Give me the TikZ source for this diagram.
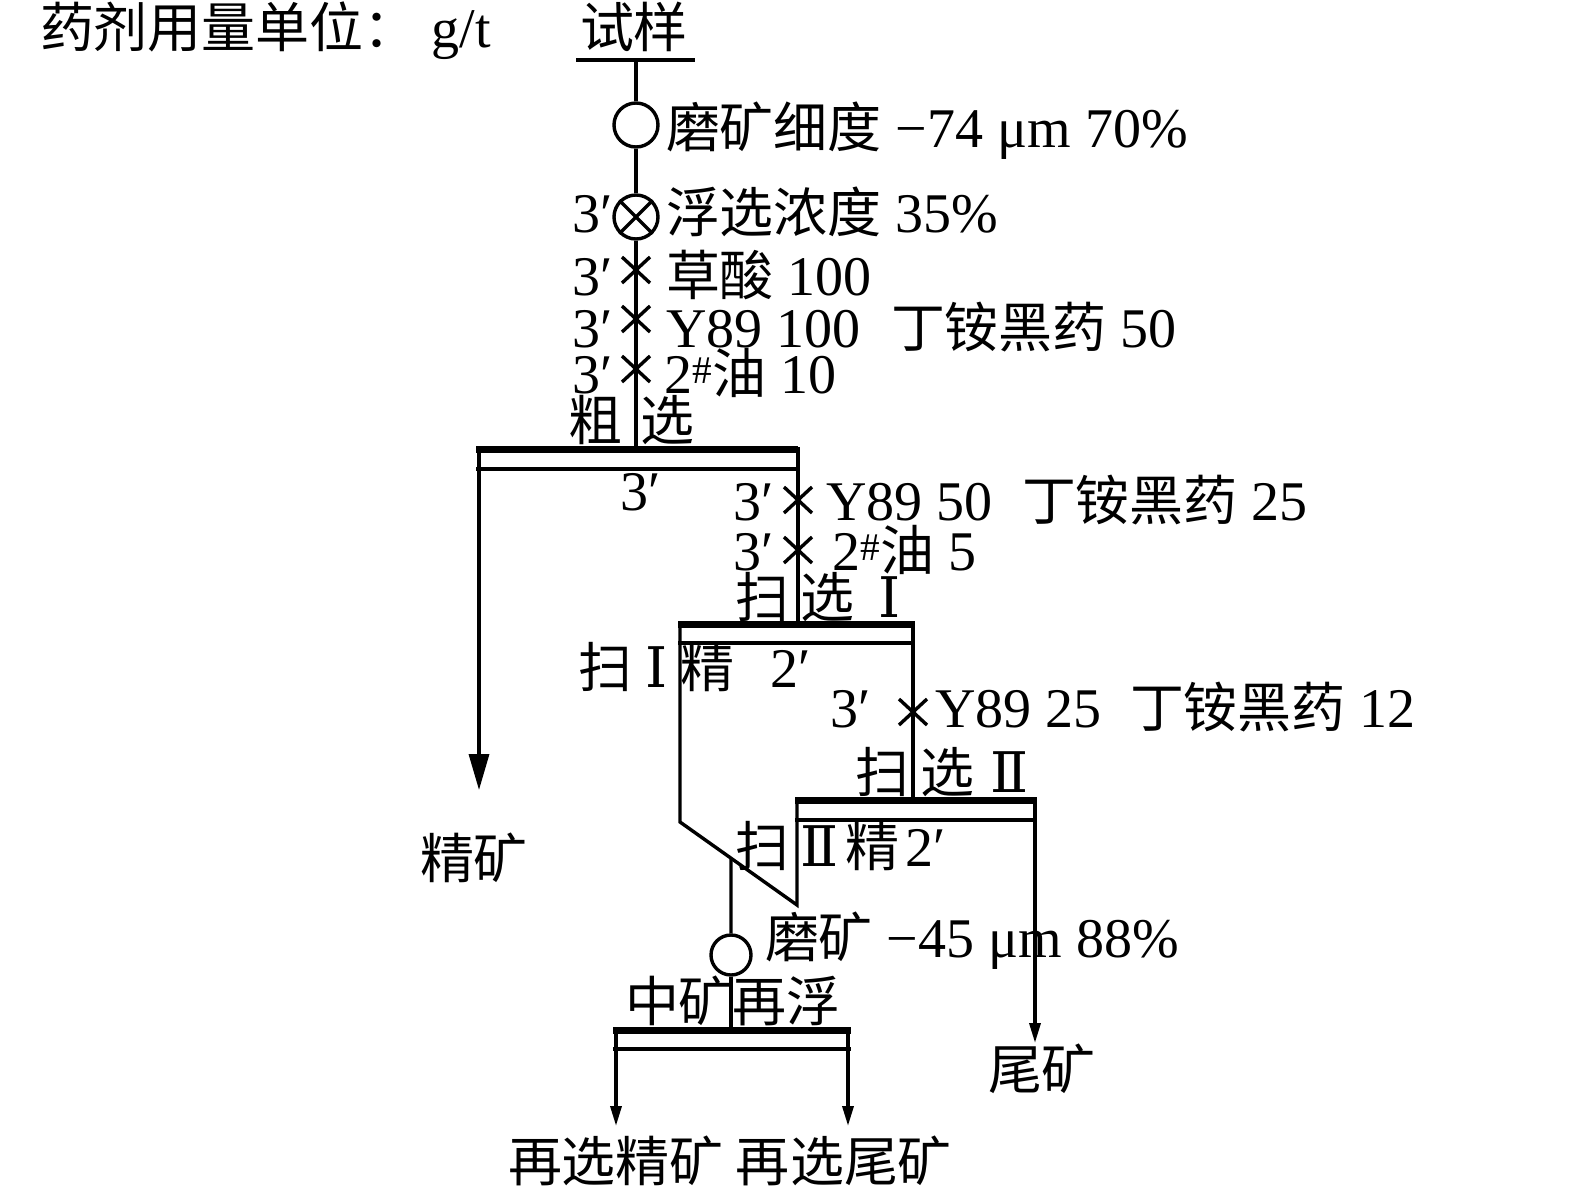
\documentclass[tikz,border=0pt]{standalone}
\usepackage{fontspec}
\setmainfont{Liberation Serif}
\newfontfamily\cjkf{Noto Sans CJK SC}[Scale=0.964]
\newfontfamily\romf{DejaVu Serif}
\usetikzlibrary{arrows.meta,calc}
\newcommand\zh[1]{{\cjkf #1}}
\newcommand\rn[1]{{\romf #1}}
\newcommand\pr{′}
\tikzset{
  flow/.style={line width=3.4pt, black},
  bar/.style={line width=7pt, black},
  lbl/.style={anchor=base west, inner sep=0pt, outer sep=0pt, font=\fontsize{56}{60}\selectfont},
  ring/.style={circle, draw, line width=3.4pt, minimum size=44pt, inner sep=0pt},
  bigtip/.style={-{Triangle[length=36pt,width=20pt]}},
  smalltip/.style={-{Triangle[length=20pt,width=11pt]}},
  xmk/.pic={\draw[flow] (-14,-13)--(14,13) (-14,13)--(14,-13);}
}
\begin{document}
\begin{tikzpicture}[x=1pt,y=-1pt]
\useasboundingbox (0,0) rectangle (1575,1195);
% title
\node[lbl] (title) at (40,47) {\zh{药剂用量单位：}\hspace{14pt}g/t};
\node[lbl] (feed) at (580,47) {\zh{试样}};
\coordinate (fl) at (576,60); \coordinate (fr) at (695,60);
\draw[flow] (fl) -- (fr);
\coordinate (top) at (636,60);
% grinding and conditioning
\node[ring] (g1) at (636,125) {};
\node[ring] (g2) at (636,217) {};
\draw[flow] (g2.45) -- (g2.225) (g2.135) -- (g2.315);
\coordinate (rin) at (636,449);
\draw[flow] (top) -- (g1);
\draw[flow] (g1) -- (g2);
\draw[flow] (g2) -- (rin);
\pic at (636,270) {xmk};
\pic at (636,319) {xmk};
\pic at (636,369) {xmk};
\node[lbl] (t1) at (666,147) {\zh{磨矿细度} −74 μm 70\%};
\node[lbl] (p1) at (572,232) {3\pr};
\node[lbl] (t2) at (666,232) {\zh{浮选浓度} 35\%};
\node[lbl] (p2) at (572,295) {3\pr};
\node[lbl] (t3) at (666,295) {\zh{草酸} 100};
\node[lbl] (p3) at (572,347) {3\pr};
\node[lbl] (t4) at (666,347) {Y89 100};
\node[lbl] (t4b) at (891,347) {\zh{丁铵黑药} 50};
\node[lbl] (p4) at (572,393) {3\pr};
\node[lbl] (t5) at (664,393) {2\textsuperscript{\#}\zh{油} 10};
\node[lbl] (r1) at (568,440) {\zh{粗}};
\node[lbl] (r2) at (640,440) {\zh{选}};
% roughing cell
\coordinate (rTL) at (476,449); \coordinate (rTR) at (798,449);
\coordinate (rBL) at (476,469); \coordinate (rBR) at (798,469);
\coordinate (rL) at (479,449); \coordinate (conc) at (479,790);
\draw[bar] (rTL) -- (rTR);
\draw[flow] (rBL) -- (rBR);
\draw[flow,bigtip] (rL) -- (conc);
\node[lbl] (rt) at (620,510) {3\pr};
\node[lbl] (cn) at (420,878) {\zh{精矿}};
% to scavenging I
\coordinate (rR) at (798,447); \coordinate (s1in) at (798,624);
\draw[flow] (rR) -- (s1in);
\pic at (798,500) {xmk};
\pic at (798,550) {xmk};
\node[lbl] (p5) at (733,520) {3\pr};
\node[lbl] (t6) at (826,520) {Y89 50};
\node[lbl] (t6b) at (1022,520) {\zh{丁铵黑药} 25};
\node[lbl] (p6) at (733,570) {3\pr};
\node[lbl] (t7) at (832,570) {2\textsuperscript{\#}\zh{油} 5};
\node[lbl] (s1a) at (735,617) {\zh{扫}};
\node[lbl] (s1b) at (800,617) {\zh{选}};
\node[lbl] (s1c) at (878,617) {\rn{Ⅰ}};
% scavenging I cell
\coordinate (aTL) at (678,624); \coordinate (aTR) at (915,624);
\coordinate (aBL) at (678,643); \coordinate (aBR) at (915,643);
\draw[bar] (aTL) -- (aTR);
\draw[flow] (aBL) -- (aBR);
\node[lbl] (s1d) at (578,687) {\zh{扫}};
\node[lbl] (s1e) at (645,687) {\rn{Ⅰ}};
\node[lbl] (s1f) at (680,687) {\zh{精}};
\node[lbl] (s1t) at (770,687) {2\pr};
% scav I concentrate path
\coordinate (aL) at (680,622); \coordinate (aL2) at (680,822);
\coordinate (dj) at (797,905); \coordinate (bL) at (797,800);
\draw[flow] (aL) -- (aL2) -- (dj) -- (bL);
% scav I tail to scav II
\coordinate (aR) at (913,622); \coordinate (s2in) at (913,800);
\draw[flow] (aR) -- (s2in);
\pic at (913,712) {xmk};
\node[lbl] (p7) at (830,727) {3\pr};
\node[lbl] (t8) at (935,727) {Y89 25};
\node[lbl] (t8b) at (1130,727) {\zh{丁铵黑药} 12};
\node[lbl] (s2a) at (855,792) {\zh{扫}};
\node[lbl] (s2b) at (920,792) {\zh{选}};
\node[lbl] (s2c) at (990,792) {\rn{Ⅱ}};
% scavenging II cell
\coordinate (bTL) at (795,800); \coordinate (bTR) at (1037,800);
\coordinate (bBL) at (795,820); \coordinate (bBR) at (1037,820);
\draw[bar] (bTL) -- (bTR);
\draw[flow] (bBL) -- (bBR);
\node[lbl] (s2d) at (735,866) {\zh{扫}};
\node[lbl] (s2e) at (800,866) {\rn{Ⅱ}};
\node[lbl] (s2f) at (845,866) {\zh{精}};
\node[lbl] (s2t) at (905,866) {2\pr};
\coordinate (bR) at (1035,798); \coordinate (tail) at (1035,1043);
\draw[flow,smalltip] (bR) -- (tail);
\node[lbl] (tl) at (988,1089) {\zh{尾矿}};
% middlings regrind
\coordinate (mj) at ($(aL2)!0.436!(dj)$);
\node[ring, minimum size=40pt] (g3) at (731,955) {};
\coordinate (min) at (731,1030);
\draw[flow] (mj) -- (g3);
\draw[flow] (g3) -- (min);
\node[lbl] (t9) at (765,957) {\zh{磨矿} −45 μm 88\%};
\node[lbl] (m1) at (625,1021) {\zh{中矿再浮}};
% middling cell
\coordinate (mTL) at (613,1030); \coordinate (mTR) at (851,1030);
\coordinate (mBL) at (613,1049); \coordinate (mBR) at (851,1049);
\draw[bar] (mTL) -- (mTR);
\draw[flow] (mBL) -- (mBR);
\coordinate (mL) at (616,1028); \coordinate (mLe) at (616,1126);
\coordinate (mR) at (848,1028); \coordinate (mRe) at (848,1126);
\draw[flow,smalltip] (mL) -- (mLe);
\draw[flow,smalltip] (mR) -- (mRe);
\node[lbl] (out) at (508,1181) {\zh{再选精矿 再选尾矿}};
\end{tikzpicture}
\end{document}
